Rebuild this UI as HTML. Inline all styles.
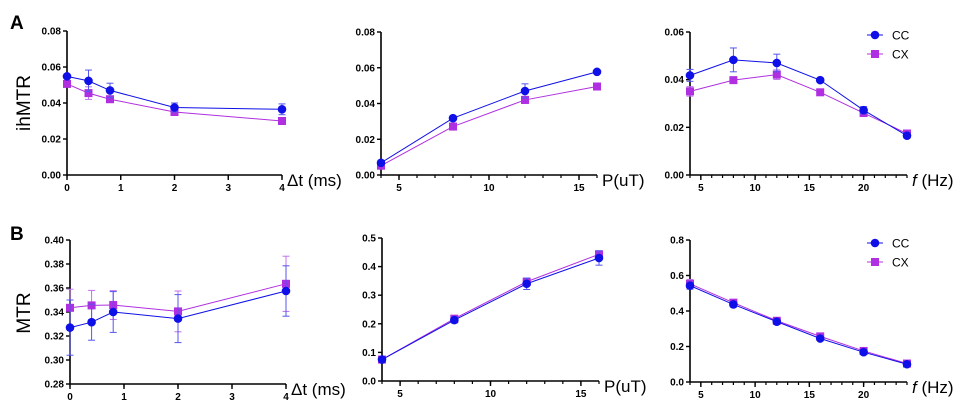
<!DOCTYPE html>
<html><head><meta charset="utf-8"><style>
html,body{margin:0;padding:0;background:#fff;}
svg{display:block;font-family:"Liberation Sans",Arial,sans-serif;}
</style></head><body>
<svg id="fig" width="973" height="409" viewBox="0 0 973 409" xmlns="http://www.w3.org/2000/svg">
<text x="10" y="29" font-size="19" font-weight="bold">A</text>
<text x="10" y="240" font-size="19" font-weight="bold">B</text>
<text transform="translate(30,103) rotate(-90)" text-anchor="middle" font-size="19">ihMTR</text>
<text transform="translate(30,313) rotate(-90)" text-anchor="middle" font-size="19">MTR</text>
</svg>
<script>
// Panel A1 (delta t)
const dtX = [0, 0.4, 0.8, 2, 4];
const a1CC = [0.0548, 0.0523, 0.047, 0.0375, 0.0365];
const a1CCerr = [0.001, 0.006, 0.004, 0.0025, 0.003];
const a1CX = [0.0506, 0.0455, 0.0421, 0.035, 0.030];
const a1CXerr = [0.001, 0.0035, 0.0015, 0.001, 0.0008];
// Panel A2 (P)
const pX = [4, 8, 12, 16];
const a2CC = [0.0068, 0.0318, 0.047, 0.0577];
const a2CCerr = [0.0008, 0.0008, 0.004, 0.0008];
const a2CX = [0.0052, 0.0271, 0.042, 0.0495];
const a2CXerr = [0.0008, 0.0008, 0.002, 0.0008];
// Panel A3 (f)
const fX = [4, 8, 12, 16, 20, 24];
const a3CC = [0.0418, 0.0483, 0.047, 0.0398, 0.0272, 0.0165];
const a3CCerr = [0.0025, 0.005, 0.0037, 0.0005, 0.0015, 0.001];
const a3CX = [0.0351, 0.0398, 0.0421, 0.0347, 0.026, 0.0174];
const a3CXerr = [0.002, 0.001, 0.002, 0.0005, 0.001, 0.0008];
// Panel B1
const b1CC = [0.327, 0.3315, 0.340, 0.3345, 0.3575];
const b1CCerr = [0.023, 0.015, 0.017, 0.020, 0.021];
const b1CX = [0.3435, 0.3455, 0.3458, 0.3405, 0.3635];
const b1CXerr = [0.0155, 0.0125, 0.012, 0.017, 0.023];
// Panel B2
const b2CC = [0.075, 0.213, 0.340, 0.430];
const b2CCerr = [0.005, 0.01, 0.02, 0.025];
const b2CX = [0.075, 0.218, 0.347, 0.443];
const b2CXerr = [0.005, 0.01, 0.01, 0.012];
// Panel B3
const b3CC = [0.543, 0.437, 0.34, 0.245, 0.168, 0.10];
const b3CCerr = [0.02, 0.015, 0.012, 0.01, 0.008, 0.008];
const b3CX = [0.553, 0.447, 0.345, 0.257, 0.175, 0.104];
const b3CXerr = [0.025, 0.015, 0.01, 0.01, 0.008, 0.008];
// tick labels
const ticksA1y = ["0.00","0.02","0.04","0.06","0.08"];
const ticksA3y = ["0.00","0.02","0.04","0.06"];
const ticksB1y = ["0.28","0.30","0.32","0.34","0.36","0.38","0.40"];
const ticksB2y = ["0.0","0.1","0.2","0.3","0.4","0.5"];
const ticksB3y = ["0.0","0.2","0.4","0.6","0.8"];
const ticksDt = ["0","1","2","3","4"];
const ticksP = ["5","10","15"];
const ticksF = ["5","10","15","20"];

const NS = "http://www.w3.org/2000/svg";
const svg = document.getElementById('fig');
const CC = "#0f0fe8", CX = "#b02fe0";
function mk(tag, attrs, parent){const e=document.createElementNS(NS,tag);for(const k in attrs)e.setAttribute(k,attrs[k]);(parent||svg).appendChild(e);return e;}

function panel(o){
  const g = mk('g',{});
  
  
  const sx = v => o.x0 + (v - o.xmin)/(o.xmax - o.xmin)*(o.x1 - o.x0);
  const sy = v => o.yb - (v - o.ymin)/(o.ymax - o.ymin)*(o.yb - o.yt);
  // axes
  const ya = mk('line',{x1:o.x0,y1:o.yt,x2:o.x0,y2:o.yb,stroke:"#000","stroke-width":1.6},g);
  
  
  const xa = mk('line',{x1:o.x0,y1:o.yb,x2:o.x1,y2:o.yb,stroke:"#000","stroke-width":1.6},g);
  
  
  o.yTicks.forEach(t=>{
    const v=parseFloat(t), y=sy(v);
    mk('line',{x1:o.x0-4,y1:y,x2:o.x0,y2:y,stroke:"#000","stroke-width":1.4},g);
    const tx=mk('text',{x:o.x0-6,y:y+3.5,"text-anchor":"end","font-size":10,"font-weight":"bold"},g);
    tx.textContent=t;
    
    
  });
  for(let v=o.xmin; v<=o.xmax+1e-9; v+=o.minor){
    mk('line',{x1:sx(v),y1:o.yb,x2:sx(v),y2:o.yb+3,stroke:"#000","stroke-width":1.2},g);
  }
  o.xTicks.forEach(t=>{
    const v=parseFloat(t), x=sx(v);
    mk('line',{x1:x,y1:o.yb,x2:x,y2:o.yb+5,stroke:"#000","stroke-width":1.4},g);
    const tx=mk('text',{x:x,y:o.yb+16,"text-anchor":"middle","font-size":10,"font-weight":"bold"},g);
    tx.textContent=t;
    
    
  });
  const tt=mk('text',{x:o.x1+5,y:o.yb+11,"font-size":17},g);
  if(o.italicF){const s=mk('tspan',{"font-style":"italic"},tt);s.textContent="f";const s2=mk('tspan',{},tt);s2.textContent=" (Hz)";}
  else tt.textContent=o.title;
  
  
  // series: draw CX first then CC? draw order per panel
  const series = [[o.cx,o.cxe,CX,"#c070ee",'sq','series-cx'],[o.cc,o.cce,CC,"#5555f0",'ci','series-cc']];
  series.forEach(([vals,errs,col,ecol,shape,nm])=>{
    const sg=mk('g',{},g);
    
    
    const pts=o.xs.map((x,i)=>sx(x)+","+sy(vals[i])).join(" ");
    mk('polyline',{points:pts,fill:"none",stroke:col,"stroke-width":1},sg);
    o.xs.forEach((x,i)=>{
      const px=sx(x), py=sy(vals[i]), e1=sy(vals[i]+errs[i]), e2=sy(vals[i]-errs[i]);
      mk('line',{x1:px,y1:e1,x2:px,y2:e2,stroke:ecol,"stroke-width":1},sg);
      mk('line',{x1:px-3.5,y1:e1,x2:px+3.5,y2:e1,stroke:ecol,"stroke-width":1},sg);
      mk('line',{x1:px-3.5,y1:e2,x2:px+3.5,y2:e2,stroke:ecol,"stroke-width":1},sg);
      let m;
      if(shape==='sq') m=mk('rect',{x:px-4,y:py-4,width:8,height:8,fill:col},sg);
      else m=mk('circle',{cx:px,cy:py,r:4.3,fill:col},sg);
      
      
    });
  });
  if(o.legendY){
    const lg=mk('g',{},g);
    
    
    [["CC",CC,'ci',o.legendY],["CX",CX,'sq',o.legendY+19]].forEach(([lab,col,sh,y])=>{
      const eg=mk('g',{},lg);
      
      
      mk('line',{x1:867,y1:y,x2:883,y2:y,stroke:col,"stroke-width":1},eg);
      if(sh==='ci') mk('circle',{cx:875,cy:y,r:4.3,fill:col},eg);
      else mk('rect',{x:871,y:y-4,width:8,height:8,fill:col},eg);
      const t=mk('text',{x:892,y:y+4.5,"font-size":12},eg);t.textContent=lab;
    });
  }
}

panel({name:"chart-a1",x0:67,x1:282,xmin:0,xmax:4,yt:31,yb:175,ymin:0,ymax:0.08,yTicks:ticksA1y,xTicks:ticksDt,minor:1,xs:dtX,cc:a1CC,cce:a1CCerr,cx:a1CX,cxe:a1CXerr,title:"\u0394t (ms)"});
panel({name:"chart-a2",x0:381,x1:597,xmin:4,xmax:16,yt:32,yb:175,ymin:0,ymax:0.08,yTicks:ticksA1y,xTicks:ticksP,minor:1,xs:pX,cc:a2CC,cce:a2CCerr,cx:a2CX,cxe:a2CXerr,title:"P(uT)"});
panel({name:"chart-a3",x0:690,x1:907,xmin:4,xmax:24,yt:32,yb:175,ymin:0,ymax:0.06,yTicks:ticksA3y,xTicks:ticksF,minor:1,xs:fX,cc:a3CC,cce:a3CCerr,cx:a3CX,cxe:a3CXerr,italicF:true,legendY:35});
panel({name:"chart-b1",x0:70,x1:286,xmin:0,xmax:4,yt:240,yb:384,ymin:0.28,ymax:0.40,yTicks:ticksB1y,xTicks:ticksDt,minor:1,xs:dtX,cc:b1CC,cce:b1CCerr,cx:b1CX,cxe:b1CXerr,title:"\u0394t (ms)"});
panel({name:"chart-b2",x0:382,x1:599,xmin:4,xmax:16,yt:238,yb:381,ymin:0,ymax:0.5,yTicks:ticksB2y,xTicks:ticksP,minor:1,xs:pX,cc:b2CC,cce:b2CCerr,cx:b2CX,cxe:b2CXerr,title:"P(uT)"});
panel({name:"chart-b3",x0:690,x1:907,xmin:4,xmax:24,yt:240,yb:382,ymin:0,ymax:0.8,yTicks:ticksB3y,xTicks:ticksF,minor:1,xs:fX,cc:b3CC,cce:b3CCerr,cx:b3CX,cxe:b3CXerr,italicF:true,legendY:243});
</script>
</body></html>
